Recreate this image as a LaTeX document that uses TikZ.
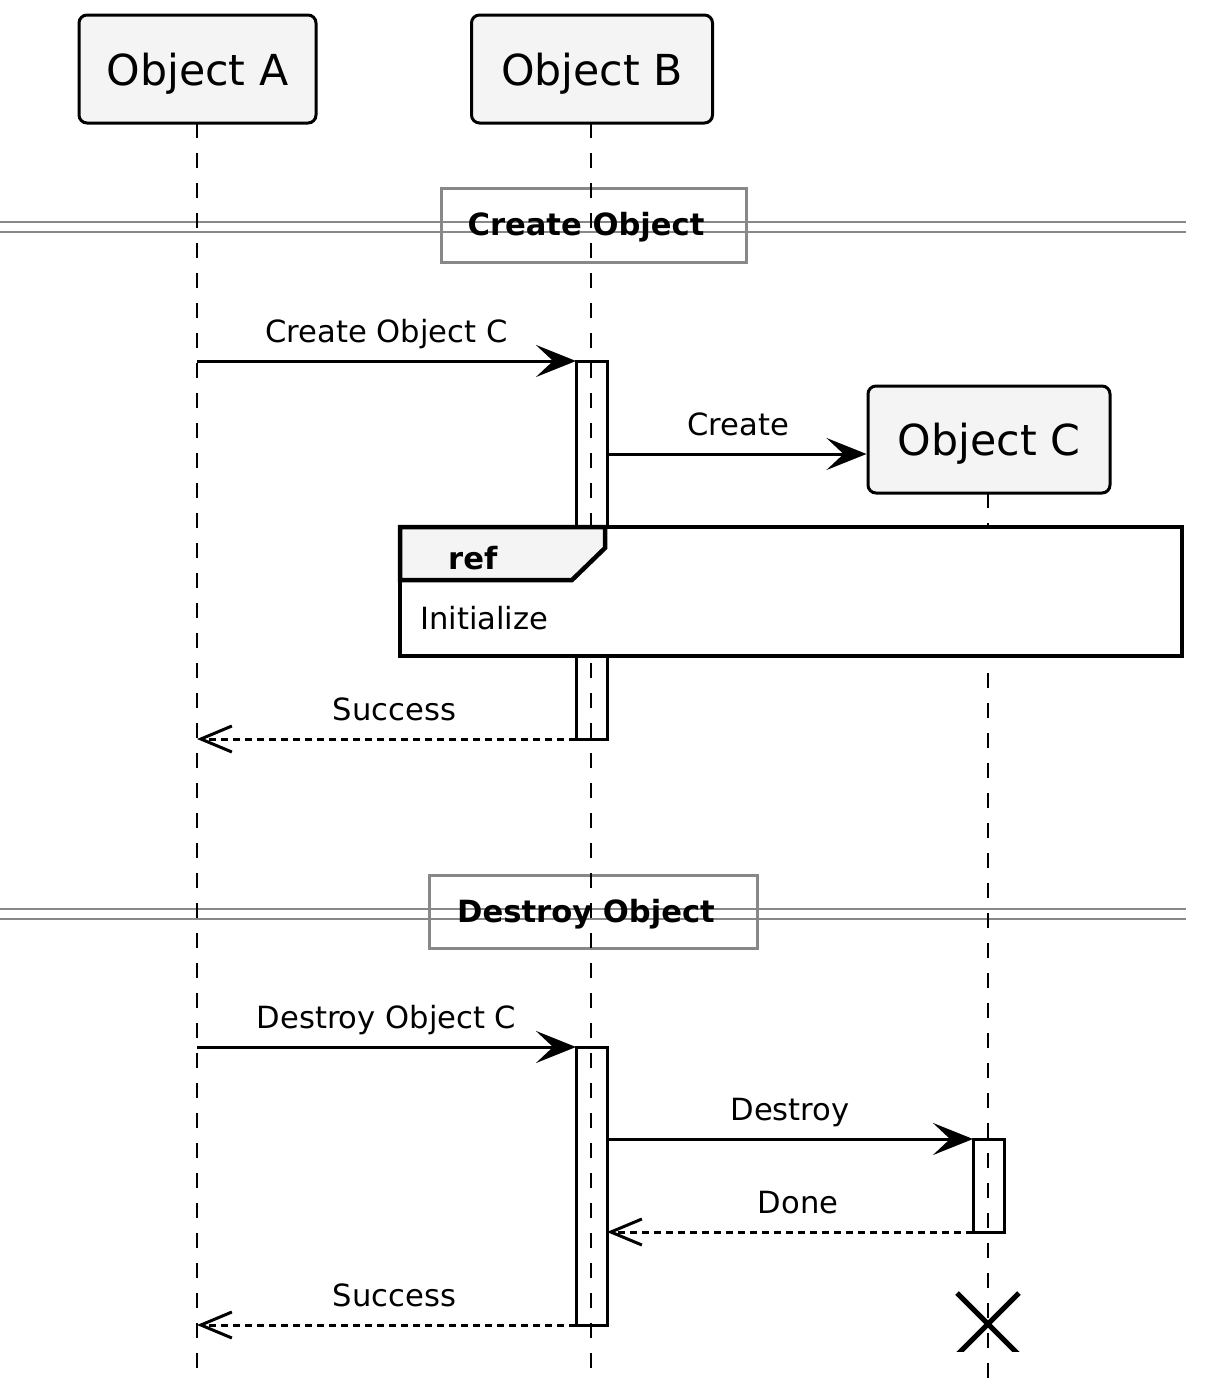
\documentclass[tikz,border=0pt]{standalone}
\usepackage{fontspec}
\setmainfont{DejaVu Sans}
\usetikzlibrary{arrows.meta}
\definecolor{partfill}{HTML}{F4F4F4}
\definecolor{divgray}{HTML}{888888}
\begin{document}
\begin{tikzpicture}[x=1pt,y=-1pt,
  participant/.style={draw, line width=3pt, rounded corners=8pt, fill=partfill,
    font=\fontsize{42.7}{50}\selectfont, text depth=0pt, inner sep=0pt},
  lifeline/.style={line width=1.5pt, dash pattern=on 15pt off 15pt},
  actbox/.style={draw, line width=3pt, minimum width=31pt, inner sep=0pt, outer sep=0pt},
  msgfont/.style={font=\fontsize{30.6}{36}\selectfont},
  msg/.style={line width=3pt, -{Stealth[length=40pt, width=32pt, inset=17pt]}},
  ret/.style={line width=3pt, dash pattern=on 7pt off 5pt,
    -{Straight Barb[length=31pt, width=26pt, line width=3pt]}},
  lbl/.style={msgfont, midway, anchor=base, yshift=19pt, inner sep=0pt},
  divline/.style={divgray, line width=1.5pt},
  divbox/.style={draw=divgray, line width=3pt, inner sep=0pt},
  divtext/.style={font=\fontsize{30.6}{36}\selectfont\bfseries, anchor=base, inner sep=0pt},
  refbox/.style={draw, line width=4.5pt, fill=white, inner sep=0pt, outer sep=0pt},
]
\useasboundingbox (0,0) rectangle (1206,1400);

% dividers
\draw[divline] (0,222) -- (1186,222) (0,232) -- (1186,232);
\draw[divline] (0,909) -- (1186,909) (0,919) -- (1186,919);
\node[divbox, minimum width=305pt, minimum height=74pt] (d1) at (593.5,225) {};
\node[divtext] (d1t) at (586,235) {Create Object};
\node[divbox, minimum width=328pt, minimum height=73pt] (d2) at (593,911.5) {};
\node[divtext] (d2t) at (586,922) {Destroy Object};

% participants
\node[participant, minimum width=237pt, minimum height=108pt] (A) at (197.5,69) {Object A};
\node[participant, minimum width=241pt, minimum height=108pt] (B) at (592,69) {Object B};
\node[participant, minimum width=242pt, minimum height=107pt] (C) at (989,439.5) {Object C};

\coordinate (Aend) at (197,1380);
\coordinate (Bend) at (591,1380);
\coordinate (Cend) at (988,1380);
\draw[lifeline] (197,123) -- (Aend);
\draw[lifeline] (591,123) -- (Bend);
\draw[lifeline] (988,493) -- (Cend);

% activations
\node[actbox, minimum height=378pt] (actB1) at (591.5,550) {};
\node[actbox, minimum height=278pt] (actB2) at (591.5,1186) {};
\node[actbox, minimum height=93pt] (actC) at (988.5,1185.5) {};

% ref frame
\node[refbox, minimum width=782pt, minimum height=129pt] (ref) at (791,591.5) {};
\draw[line width=4.5pt, fill=partfill, line join=miter]
  (ref.north west) -- ++(205,0) -- ++(0,21) -- ++(-33,32) -- ++(-172,0) -- cycle;
\node[font=\fontsize{30.6}{36}\selectfont\bfseries, anchor=base west, inner sep=0pt] (reft) at (448,569) {ref};
\node[msgfont, anchor=base west, inner sep=0pt] (refbody) at (420,629) {Initialize};

% messages
\coordinate (cIn) at ([yshift=-14.5pt]C.west);
\draw[msg] (Aend |- actB1.north west) -- (actB1.north west)
  node[lbl] (l1) {Create Object C};
\draw[msg] (actB1.east |- cIn) -- (cIn)
  node[lbl, xshift=1.5pt] (l2) {Create};
\draw[ret] (actB1.south west) -- (Aend |- actB1.south west)
  node[lbl, xshift=8pt] (l3) {Success};
\draw[msg] (Aend |- actB2.north west) -- (actB2.north west)
  node[lbl] (l4) {Destroy Object C};
\draw[msg] (actB2.east |- actC.north west) -- (actC.north west)
  node[lbl] (l5) {Destroy};
\draw[ret] (actC.south west) -- (actB2.east |- actC.south west)
  node[lbl, xshift=8pt] (l6) {Done};
\draw[ret] (actB2.south west) -- (Aend |- actB2.south west)
  node[lbl, xshift=8pt] (l7) {Success};

% destruction mark
\begin{scope}
  \clip (900,1280) rectangle (1100,1351);
  \draw[line width=5pt] (957,1293) -- (1019,1355) (1019,1293) -- (957,1355);
\end{scope}
\end{tikzpicture}
\end{document}
